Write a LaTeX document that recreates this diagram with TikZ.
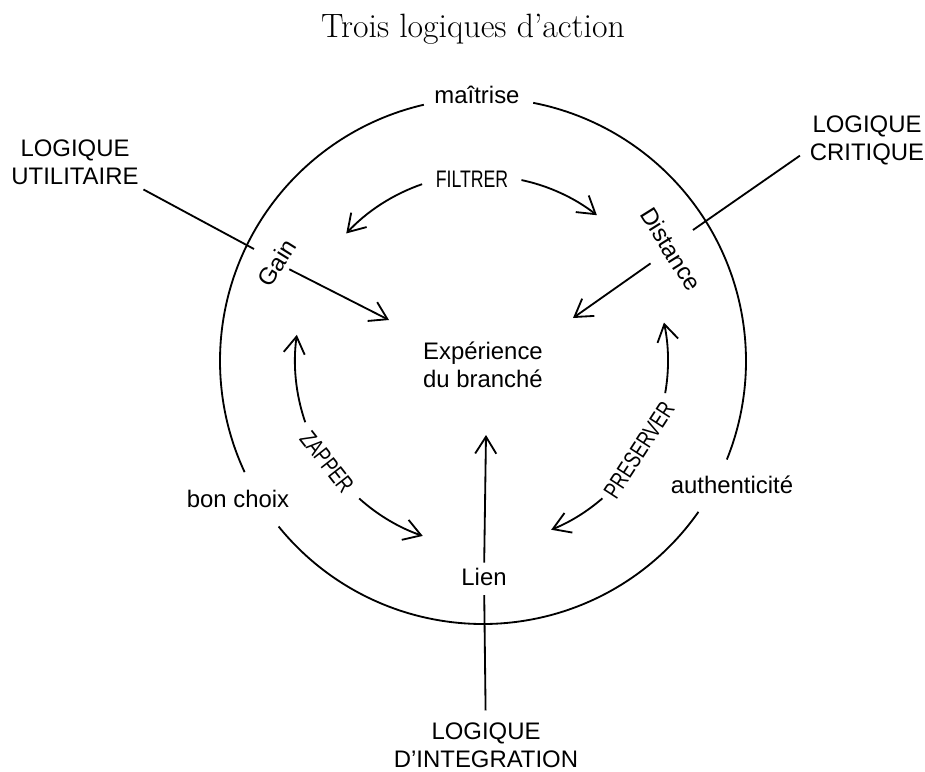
\documentclass[tikz,border=0pt]{standalone}
\usepackage{graphicx}
\usepackage{fontspec}
\newfontfamily\labelfont{Liberation Sans}
\usetikzlibrary{arrows.meta}
\def\innerarc#1(#2:#3:#4){\coordinate (#1) at (#2:#4); \draw[arr] (#1) arc (#2:#3:#4);}
\newcommand\verbtext[1]{\scalebox{0.74}[1]{#1}}
\tikzset{
	lbl/.style={font=\labelfont\fontsize{17}{20}\selectfont, align=center},
	headline/.style={font=\rmfamily\fontsize{24}{28}\selectfont},
	ln/.style={line width=1.3pt},
	arr/.style={line width=1.3pt, -{Straight Barb[length=12pt,width=15pt]}}
}

\begin{document}
\begin{tikzpicture}[x=0.025cm, y=0.025cm]
			%%%%% START %%%%%
			\useasboundingbox (-483,-410) rectangle (442,361);
			
			\node[headline, anchor=base] (title) at (-10,324) {Trois logiques d’action};
			
			% outer ring, open where the words sit
			\draw[ln] (103:263) arc (103:205:263);
			\draw[ln] (219:263) arc (219:325:263);
			\draw[ln] (338:263) arc (338:439:263);
			
			\node[lbl, anchor=base] (maitrise) at (-6,258) {maîtrise};
			\node[lbl, anchor=base] (bonchoix) at (-245,-146) {bon choix};
			\node[lbl, anchor=base] (authent) at (249,-132) {authenticité};
			
			\node[lbl] (exp) at (0,-4) {Expérience\\du branché};
			\node[lbl, rotate=58] (gain) at (-206,98) {Gain};
			\node[lbl, rotate=-58] (dist) at (188,112) {Distance};
			\node[lbl, anchor=base] (lien) at (1,-224) {Lien};
			
			% the three logics
			\node[lbl] (util) at (-408,199) {LOGIQUE\\UTILITAIRE};
			\node[lbl] (crit) at (384,221) {LOGIQUE\\CRITIQUE};
			\node[lbl] (integ) at (3,-384) {LOGIQUE\\D’INTEGRATION};
			
			\coordinate (utilend) at (-229,112);
			\coordinate (critend) at (210,131);
			\draw[ln] (util.south east) -- (utilend);
			\draw[ln] ([shift={(-5,14)}]crit.south west) -- (critend);
			\draw[ln, shorten <=3.5pt, shorten >=5pt] (lien) -- (integ);
			
			% towards the centre
			\coordinate (gaintip) at (-94,41);
			\coordinate (disttip) at (90,43);
			\coordinate (lientip) at (3,-74);
			\draw[arr] (gain) -- (gaintip);
			\draw[arr, shorten <=8pt] (dist) -- (disttip);
			\draw[arr] (lien) -- (lientip);
			
			% inner ring of verbs
			\node[lbl, anchor=base] (filtrer) at (-11,174) {\verbtext{FILTRER}};
			\node[lbl, rotate=-52] (zapper) at (-156,-101) {\verbtext{ZAPPER}};
			\node[lbl, rotate=57] (preserver) at (156,-89) {\verbtext{PRESERVER}};
			
			\innerarc fL(109:137:187);
			\innerarc fR(78:52:185);
			\innerarc zU(199:172:188);
			\innerarc zD(228:251:185);
			\innerarc pU(-10:12:185);
			\innerarc pD(-49:-68:182);
			
			%%%%% END %%%%%
		\end{tikzpicture}
\end{document}
